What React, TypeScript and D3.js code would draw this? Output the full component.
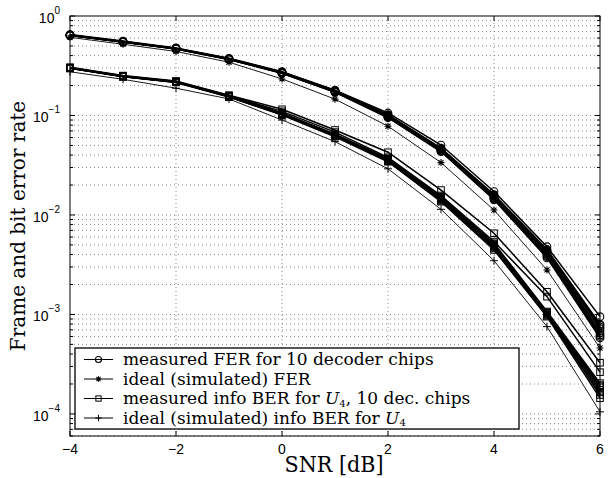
import React from 'react';
import * as d3 from 'd3';

// SNR points (dB)
const snr = [-4, -3, -2, -1, 0, 1, 2, 3, 4, 5, 6];

// measured FER, one row per decoder chip
const measuredFer = [
  [0.650, 0.560, 0.478, 0.376, 0.276, 0.180, 0.106, 0.0505, 0.0172, 0.0048, 0.00095],
  [0.645, 0.553, 0.472, 0.372, 0.272, 0.177, 0.101, 0.0465, 0.0158, 0.0044, 0.00078],
  [0.642, 0.551, 0.470, 0.370, 0.270, 0.175, 0.099, 0.0455, 0.0154, 0.0042, 0.00072],
  [0.640, 0.549, 0.469, 0.368, 0.268, 0.174, 0.098, 0.0448, 0.0150, 0.0041, 0.00068],
  [0.643, 0.552, 0.471, 0.371, 0.271, 0.176, 0.100, 0.0460, 0.0156, 0.0043, 0.00075],
  [0.638, 0.547, 0.467, 0.366, 0.266, 0.172, 0.096, 0.0440, 0.0147, 0.0040, 0.00065],
  [0.641, 0.550, 0.470, 0.369, 0.269, 0.174, 0.097, 0.0445, 0.0149, 0.0039, 0.00062],
  [0.639, 0.548, 0.468, 0.367, 0.267, 0.173, 0.097, 0.0442, 0.0145, 0.0038, 0.00060],
  [0.644, 0.554, 0.473, 0.373, 0.273, 0.178, 0.102, 0.0470, 0.0160, 0.0045, 0.00080],
  [0.637, 0.546, 0.466, 0.365, 0.265, 0.171, 0.095, 0.0432, 0.0142, 0.0037, 0.00058],
];

// ideal (simulated) FER
const idealFer = [0.61, 0.52, 0.44, 0.343, 0.233, 0.146, 0.078, 0.0336, 0.0112, 0.0028, 0.00046];

// measured info BER for U4, one row per chip
const measuredBer = [
  [0.305, 0.252, 0.222, 0.160, 0.1154, 0.0715, 0.0427, 0.0178, 0.00655, 0.00169, 0.000327],
  [0.303, 0.250, 0.220, 0.158, 0.110, 0.068, 0.0380, 0.0157, 0.0054, 0.00151, 0.000263],
  [0.302, 0.249, 0.219, 0.157, 0.106, 0.065, 0.0371, 0.0153, 0.00519, 0.00107, 0.000204],
  [0.301, 0.248, 0.218, 0.156, 0.104, 0.064, 0.0362, 0.0148, 0.0050, 0.00104, 0.000190],
  [0.300, 0.247, 0.217, 0.155, 0.103, 0.063, 0.0355, 0.0144, 0.0048, 0.00101, 0.000175],
  [0.299, 0.246, 0.216, 0.154, 0.102, 0.062, 0.0350, 0.0140, 0.0047, 0.00099, 0.000165],
  [0.298, 0.245, 0.215, 0.153, 0.101, 0.0612, 0.0343, 0.0136, 0.00445, 0.00095, 0.000144],
  [0.300, 0.248, 0.217, 0.156, 0.104, 0.0635, 0.0358, 0.0146, 0.0049, 0.00103, 0.000185],
  [0.301, 0.247, 0.218, 0.155, 0.105, 0.0645, 0.0366, 0.0150, 0.0051, 0.00105, 0.000195],
  [0.299, 0.246, 0.216, 0.154, 0.102, 0.0625, 0.0347, 0.0139, 0.0046, 0.00097, 0.000155],
];

// ideal (simulated) info BER for U4
const idealBer = [0.275, 0.231, 0.188, 0.1466, 0.090, 0.0546, 0.0291, 0.0114, 0.00347, 0.000754, 0.000105];

const xTicks = [-4, -2, 0, 2, 4, 6];
const yDecades = [0, -1, -2, -3, -4];

const W = 615;
const H = 478;
const m = { left: 70, right: 15, top: 16, bottom: 42 };

const serif = '"DejaVu Serif", serif';
const serifNarrow = '"DejaVu Serif Condensed", "DejaVu Serif", serif';
const sans = '"Liberation Sans", Arial, sans-serif';

type Mk = 'o' | '*' | 's' | '+';

function Marker({ kind, cx, cy, size = 1 }: { kind: Mk; cx: number; cy: number; size?: number }) {
  if (kind === 'o') return <circle cx={cx} cy={cy} r={3.8 * size} fill="none" stroke="#000" strokeWidth={1.1} />;
  if (kind === 's') {
    const s = 3.3 * size;
    return <rect x={cx - s} y={cy - s} width={2 * s} height={2 * s} fill="none" stroke="#000" strokeWidth={1} />;
  }
  if (kind === '*') {
    const s = 3.5 * size;
    const d = s * 0.72;
    return (
      <path
        d={`M${cx - s},${cy}H${cx + s}M${cx},${cy - s}V${cy + s}M${cx - d},${cy - d}L${cx + d},${cy + d}M${cx - d},${cy + d}L${cx + d},${cy - d}`}
        stroke="#000"
        strokeWidth={1.1}
      />
    );
  }
  const s = 4 * size;
  return <path d={`M${cx - s},${cy}H${cx + s}M${cx},${cy - s}V${cy + s}`} stroke="#000" strokeWidth={1} />;
}

export default function App() {
  const x = d3.scaleLinear().domain([-4, 6]).range([m.left, W - m.right]);
  const y = d3.scaleLog().domain([6e-5, 1]).range([H - m.bottom, m.top]);
  const x0 = m.left, x1 = W - m.right, y0 = H - m.bottom, y1 = m.top;

  const line = d3
    .line<number>()
    .x((_, i) => x(snr[i]))
    .y((d) => y(d));

  const minor: number[] = [];
  for (let e = -5; e <= -1; e++) {
    for (let k = 2; k <= 9; k++) {
      const v = k * Math.pow(10, e);
      if (v >= 6e-5 && v < 1) minor.push(v);
    }
  }

  const series: { rows: number[][]; mk: Mk; w: number }[] = [
    { rows: measuredFer, mk: 'o', w: 1.5 },
    { rows: [idealFer], mk: '*', w: 0.9 },
    { rows: measuredBer, mk: 's', w: 1.5 },
    { rows: [idealBer], mk: '+', w: 0.9 },
  ];

  const legend: { mk: Mk; label: React.ReactNode }[] = [
    { mk: 'o', label: 'measured FER for 10 decoder chips' },
    { mk: '*', label: 'ideal (simulated) FER' },
    {
      mk: 's',
      label: (
        <>
          measured info BER for <tspan fontStyle="italic">U</tspan>
          <tspan fontSize={10} dy={2.5}>4</tspan>
          <tspan dy={-2.5}>, 10 dec. chips</tspan>
        </>
      ),
    },
    {
      mk: '+',
      label: (
        <>
          ideal (simulated) info BER for <tspan fontStyle="italic">U</tspan>
          <tspan fontSize={10} dy={2.5}>4</tspan>
        </>
      ),
    },
  ];

  const lg = { x: 75, y: 348, w: 444, h: 81, row: 19.5 };

  return (
    <div style={{ position: 'fixed', left: 0, top: 0 }}>
      <svg width={W} height={H} style={{ display: 'block', background: '#fff' }}>
        {/* grid */}
        <g stroke="#8a8a8a" strokeWidth={1} strokeDasharray="1,3">
          {xTicks.slice(1, -1).map((t) => (
            <line key={'gx' + t} x1={x(t)} x2={x(t)} y1={y0} y2={y1} />
          ))}
          {minor.concat(yDecades.slice(1).map((e) => Math.pow(10, e))).map((v, i) => (
            <line key={'gy' + i} x1={x0} x2={x1} y1={y(v)} y2={y(v)} />
          ))}
        </g>

        {/* curves */}
        {series.map((s, si) =>
          s.rows.map((row, ri) => (
            <g key={si + '-' + ri}>
              <path d={line(row) || ''} fill="none" stroke="#000" strokeWidth={s.w} />
              {row.map((v, i) => (
                <Marker key={i} kind={s.mk} cx={x(snr[i])} cy={y(v)} />
              ))}
            </g>
          ))
        )}

        {/* axes box and ticks */}
        <rect x={x0} y={y1} width={x1 - x0} height={y0 - y1} fill="none" stroke="#000" strokeWidth={1} />
        <g stroke="#000" strokeWidth={1}>
          {xTicks.map((t) => (
            <g key={'tx' + t}>
              <line x1={x(t)} x2={x(t)} y1={y0} y2={y0 - 5} />
              <line x1={x(t)} x2={x(t)} y1={y1} y2={y1 + 5} />
            </g>
          ))}
          {yDecades.map((e) => (
            <g key={'ty' + e}>
              <line x1={x0} x2={x0 + 5} y1={y(Math.pow(10, e))} y2={y(Math.pow(10, e))} />
              <line x1={x1} x2={x1 - 5} y1={y(Math.pow(10, e))} y2={y(Math.pow(10, e))} />
            </g>
          ))}
          {minor.map((v, i) => (
            <g key={'tm' + i}>
              <line x1={x0} x2={x0 + 3} y1={y(v)} y2={y(v)} />
              <line x1={x1} x2={x1 - 3} y1={y(v)} y2={y(v)} />
            </g>
          ))}
        </g>

        {/* tick labels */}
        <g fontFamily={sans} fontSize={14} fill="#000">
          {xTicks.map((t) => (
            <text key={'lx' + t} x={x(t)} y={y0 + 18} textAnchor="middle">
              {t < 0 ? '\u2212' + Math.abs(t) : String(t)}
            </text>
          ))}
          {yDecades.map((e) => (
            <text key={'ly' + e} x={x0 - 10} y={y(Math.pow(10, e)) + 7} textAnchor="end">
              10
              <tspan fontSize={10} dy={-9}>
                {e < 0 ? '\u2212' + Math.abs(e) : String(e)}
              </tspan>
            </text>
          ))}
        </g>

        {/* axis labels */}
        <text x={334} y={472} textAnchor="middle" fontFamily={serifNarrow} fontSize={23}>
          SNR [dB]
        </text>
        <text
          transform={`translate(25,${(y0 + y1) / 2}) rotate(-90)`}
          textAnchor="middle"
          fontFamily={serif}
          fontSize={20}
        >
          Frame and bit error rate
        </text>

        {/* legend */}
        <rect x={lg.x} y={lg.y} width={lg.w} height={lg.h} fill="#fff" stroke="#000" strokeWidth={1.3} />
        {legend.map((it, i) => {
          const cy = lg.y + 11.5 + i * lg.row;
          return (
            <g key={'lg' + i}>
              <line x1={lg.x + 9} x2={lg.x + 38} y1={cy} y2={cy} stroke="#000" strokeWidth={1} />
              <Marker kind={it.mk} cx={lg.x + 23.5} cy={cy} size={0.8} />
              <text x={lg.x + 48} y={cy + 5.5} fontFamily={serif} fontSize={17}>
                {it.label}
              </text>
            </g>
          );
        })}
      </svg>
    </div>
  );
}
